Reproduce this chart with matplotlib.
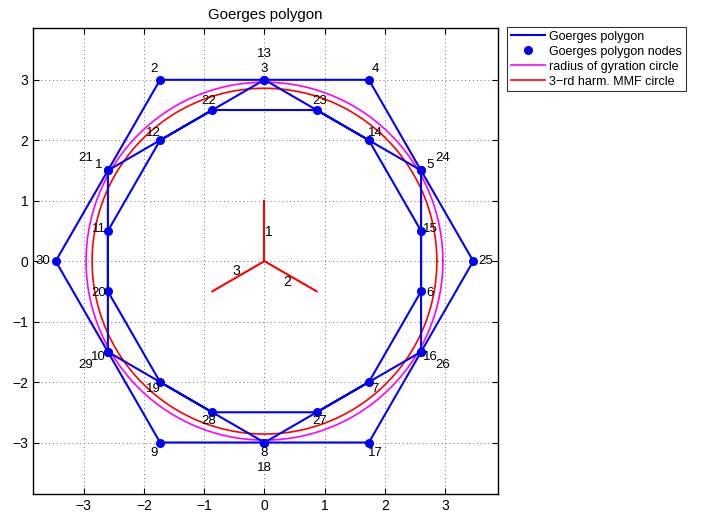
import numpy as np
import matplotlib
matplotlib.use("Agg")
import matplotlib.pyplot as plt

plt.rcParams['font.family'] = ['Liberation Sans', 'DejaVu Sans']

# node coordinates of the Goerges polygon (slot 1..30)
node_x = [-2.598, -1.732, 0.0, 1.732, 2.598, 2.598, 1.732, 0.0, -1.732, -2.598,
          -2.598, -1.732, 0.0, 1.732, 2.598, 2.598, 1.732, 0.0, -1.732, -2.598,
          -2.598, -0.866, 0.866, 2.598, 3.464, 2.598, 0.866, -0.866, -2.598, -3.464]
node_y = [1.5, 3.0, 3.0, 3.0, 1.5, -0.5, -2.0, -3.0, -3.0, -1.5,
          0.5, 2.0, 3.0, 2.0, 0.5, -1.5, -3.0, -3.0, -2.0, -0.5,
          1.5, 2.5, 2.5, 1.5, 0.0, -1.5, -2.5, -2.5, -1.5, 0.0]

r_gyration = 2.96
r_mmf3 = 2.86

# phase axes
phase_x = [0.0, 0.866, -0.866]
phase_y = [1.0, -0.5, -0.5]
phase_labels = ['1', '2', '3']
phase_lab_x = [0.08, 0.38, -0.47]
phase_lab_y = [0.49, -0.34, -0.17]

fig = plt.figure(figsize=(7.03, 5.15), dpi=100)
ax = fig.add_axes([0.047, 0.041, 0.661, 0.905])

xs = node_x + [node_x[0]]
ys = node_y + [node_y[0]]
ax.plot(xs, ys, color='#0000ff', lw=1.5, label='Goerges polygon', zorder=3)
ax.plot(node_x, node_y, 'o', color='#0000ff', ms=5.5, label='Goerges polygon nodes', zorder=4)

t = np.linspace(0, 2 * np.pi, 400)
ax.plot(r_gyration * np.cos(t), r_gyration * np.sin(t), color='#ff00ff', lw=1.2,
        label='radius of gyration circle', zorder=2)
ax.plot(r_mmf3 * np.cos(t), r_mmf3 * np.sin(t), color='#ff0000', lw=1.2,
        label='3\u2212rd harm. MMF circle', zorder=2)

for px, py in zip(phase_x, phase_y):
    ax.plot([0, px], [0, py], color='#ff0000', lw=1.5)
for lab, lx, ly in zip(phase_labels, phase_lab_x, phase_lab_y):
    ax.text(lx, ly, lab, fontsize=10, ha='center', va='center')

# slot labels, pushed outwards when the spot is taken
seen = {}
for k, (x, y) in enumerate(zip(node_x, node_y)):
    key = (round(x, 2), round(y, 2))
    n = seen.get(key, 0)
    seen[key] = n + 1
    f = 1.06 if n == 0 else 1.14
    ax.text(x * f, y * f, str(k + 1), fontsize=9.5, ha='center', va='center', zorder=5)

ax.set_xlim(-3.84, 3.87)
ax.set_ylim(-3.85, 3.86)
ax.set_xticks(range(-3, 4))
ax.set_yticks(range(-3, 4))
ax.tick_params(direction='in', top=True, right=True, labelsize=10, length=4)
ax.grid(True, linestyle=(0, (1, 3)), color='#777777', lw=0.7)
ax.set_title('Goerges polygon', fontsize=10.8)
for s in ax.spines.values():
    s.set_linewidth(1.0)

leg = ax.legend(loc='upper left', bbox_to_anchor=(1.02, 1.002), fontsize=9,
                frameon=True, fancybox=False, edgecolor='black', borderpad=0.3,
                labelspacing=0.24, handlelength=2.7, handletextpad=0.35, borderaxespad=0)
leg.get_frame().set_linewidth(0.8)

fig.savefig('out.png', dpi=100)
